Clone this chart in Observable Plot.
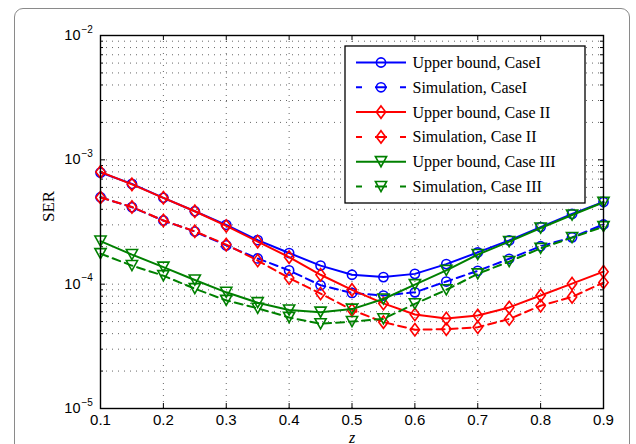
<!DOCTYPE html>
<html>
<head>
<meta charset="utf-8">
<script src="https://cdn.jsdelivr.net/npm/d3@7"></script>
<script src="https://cdn.jsdelivr.net/npm/@observablehq/plot@0.6"></script>
<style>
  html, body { margin: 0; padding: 0; background: #fff; overflow: hidden; }
  #wrap { position: relative; width: 636px; height: 444px; overflow: hidden; }
  #frame { position: absolute; left: 14px; top: 8px; width: 616px; height: 470px;
           border: 1px solid #8a8a8a; border-radius: 9px; box-sizing: border-box; }
  #chart { position: absolute; left: 0; top: 0; }
</style>
</head>
<body>
<div id="wrap"><div id="frame"></div><div id="chart"></div></div>
<script>
// ---- data ----
const z = [0.1, 0.15, 0.2, 0.25, 0.3, 0.35, 0.4, 0.45, 0.5, 0.55, 0.6, 0.65, 0.7, 0.75, 0.8, 0.85, 0.9];
const ubCase1  = [7.9e-4, 6.4e-4, 4.95e-4, 3.86e-4, 3.0e-4, 2.26e-4, 1.78e-4, 1.41e-4, 1.19e-4, 1.14e-4, 1.21e-4, 1.45e-4, 1.8e-4, 2.25e-4, 2.88e-4, 3.67e-4, 4.58e-4];
const simCase1 = [5.0e-4, 4.16e-4, 3.25e-4, 2.65e-4, 2.05e-4, 1.61e-4, 1.29e-4, 9.8e-5, 8.5e-5, 8.1e-5, 8.6e-5, 1.05e-4, 1.28e-4, 1.6e-4, 2.02e-4, 2.38e-4, 3.02e-4];
const ubCase2  = [8.0e-4, 6.35e-4, 4.95e-4, 3.86e-4, 2.94e-4, 2.2e-4, 1.65e-4, 1.19e-4, 9.0e-5, 7.0e-5, 5.7e-5, 5.3e-5, 5.6e-5, 6.5e-5, 8.1e-5, 1.01e-4, 1.26e-4];
const simCase2 = [4.98e-4, 4.18e-4, 3.25e-4, 2.66e-4, 2.08e-4, 1.55e-4, 1.12e-4, 8.4e-5, 6.2e-5, 4.95e-5, 4.3e-5, 4.35e-5, 4.5e-5, 5.25e-5, 6.7e-5, 7.9e-5, 1.03e-4];
const ubCase3  = [2.22e-4, 1.73e-4, 1.37e-4, 1.08e-4, 8.6e-5, 7.1e-5, 6.2e-5, 5.95e-5, 6.3e-5, 7.6e-5, 9.9e-5, 1.29e-4, 1.73e-4, 2.2e-4, 2.83e-4, 3.6e-4, 4.56e-4];
const simCase3 = [1.76e-4, 1.41e-4, 1.17e-4, 9.2e-5, 7.4e-5, 6.4e-5, 5.4e-5, 4.8e-5, 5.0e-5, 5.26e-5, 6.95e-5, 9.0e-5, 1.21e-4, 1.52e-4, 1.94e-4, 2.37e-4, 2.9e-4];

const seriesNames = ["Upper bound, CaseI", "Simulation, CaseI", "Upper bound, Case II", "Simulation, Case II", "Upper bound, Case III", "Simulation, Case III"];
const seriesValues = [ubCase1, simCase1, ubCase2, simCase2, ubCase3, simCase3];
const seriesColors = ["#0000ff", "#0000ff", "#ff0000", "#ff0000", "#008000", "#008000"];
const seriesDashed = [false, true, false, true, false, true];
const seriesMarker = ["circle", "circle", "diamond", "diamond", "tri", "tri"];

const xTicks = [0.1, 0.2, 0.3, 0.4, 0.5, 0.6, 0.7, 0.8, 0.9];
const xTickLabels = ["0.1", "0.2", "0.3", "0.4", "0.5", "0.6", "0.7", "0.8", "0.9"];
const yMajor = [1e-5, 1e-4, 1e-3, 1e-2];
const yExpLabels = ["\u22125", "\u22124", "\u22123", "\u22122"];
const yMinor = [];
for (const d of [1e-5, 1e-4, 1e-3]) for (let m = 2; m <= 9; m++) yMinor.push(m * d);

// ---- custom marker symbols ----
const symCircle = { draw(ctx, size) { const r = Math.sqrt(size / Math.PI); ctx.moveTo(r, 0); ctx.arc(0, 0, r, 0, 2 * Math.PI); } };
const symDiamond = { draw(ctx, size) { const r = Math.sqrt(size / Math.PI); const w = r * 0.75;
  ctx.moveTo(0, -r); ctx.lineTo(w, 0); ctx.lineTo(0, r); ctx.lineTo(-w, 0); ctx.closePath(); } };
const symTri = { draw(ctx, size) { const r = Math.sqrt(size / Math.PI); const w = r * 1.0, h = r * 0.9;
  ctx.moveTo(-w, -h); ctx.lineTo(w, -h); ctx.lineTo(0, h); ctx.closePath(); } };
const symbols = { circle: symCircle, diamond: symDiamond, tri: symTri };
const symR = { circle: 4.6, diamond: 6.2, tri: 5.6 };

const W = 636, H = 444, mL = 100, mR = 33, mT = 35, mB = 36;
const fw = W - mL - mR, fh = H - mT - mB;

const marks = [
  Plot.gridX(xTicks, { stroke: "#000", strokeOpacity: 0.6, strokeDasharray: "1,5", strokeWidth: 1 }),
  Plot.gridY(yMinor.concat(yMajor), { stroke: "#000", strokeOpacity: 0.6, strokeDasharray: "1,5", strokeWidth: 1 }),
  // inward tick marks
  Plot.tickX(xTicks, { x: d => d, insetTop: fh - 5, stroke: "#000" }),
  Plot.tickX(xTicks, { x: d => d, insetBottom: fh - 5, stroke: "#000" }),
  Plot.tickY(yMajor, { y: d => d, insetLeft: fw - 5, stroke: "#000" }),
  Plot.tickY(yMajor, { y: d => d, insetRight: fw - 5, stroke: "#000" }),
  Plot.tickY(yMinor, { y: d => d, insetLeft: fw - 3, stroke: "#000" }),
  Plot.tickY(yMinor, { y: d => d, insetRight: fw - 3, stroke: "#000" }),
];

seriesNames.forEach((name, i) => {
  const data = z.map((x, j) => ({ x, y: seriesValues[i][j] }));
  marks.push(Plot.line(data, { x: "x", y: "y", stroke: seriesColors[i], strokeWidth: 2,
    strokeDasharray: seriesDashed[i] ? "8,5" : null }));
  marks.push(Plot.dot(data, { x: "x", y: "y", symbol: symbols[seriesMarker[i]], r: symR[seriesMarker[i]],
    stroke: seriesColors[i], fill: "none", strokeWidth: 1.6 }));
});

marks.push(
  Plot.frame({ stroke: "#000", strokeWidth: 1.4 }),
  Plot.axisX(xTicks, { tickSize: 0, tickPadding: 6, tickFormat: (d, i) => xTickLabels[i], fontSize: 15, label: null }),
  Plot.text(yMajor, { y: d => d, frameAnchor: "left", dx: -20, textAnchor: "end", text: () => "10", fontSize: 14.5 }),
  Plot.text(yMajor, { y: d => d, frameAnchor: "left", dx: -19, dy: -6, textAnchor: "start", text: (d, i) => yExpLabels[i], fontSize: 10 }),
  Plot.text(["SER"], { frameAnchor: "left", dx: -52, rotate: -90, text: d => d, fontFamily: "Liberation Serif, Times New Roman, serif", fontSize: 17 }),
  Plot.text(["z"], { frameAnchor: "bottom", dy: 34, text: d => d, fontFamily: "Liberation Serif, Times New Roman, serif", fontStyle: "italic", fontSize: 16 })
);

const chart = Plot.plot({
  width: W, height: H, marginLeft: mL, marginRight: mR, marginTop: mT, marginBottom: mB,
  x: { domain: [0.1, 0.9], axis: null },
  y: { type: "log", domain: [1e-5, 1e-2], axis: null },
  style: { fontFamily: "Liberation Sans, Arial, Helvetica, sans-serif", fontSize: "15px", background: "transparent", color: "#000" },
  marks
});

// ---- legend ----
const svg = d3.select(chart);
const lg = svg.append("g").attr("text-anchor", "start");
const lx = 345, ly = 46, lw = 240, lh = 157;
lg.append("rect").attr("x", lx).attr("y", ly).attr("width", lw).attr("height", lh)
  .attr("fill", "#fff").attr("stroke", "#000").attr("stroke-width", 1.3);
seriesNames.forEach((name, i) => {
  const yy = 62.5 + i * 24.8;
  lg.append("line").attr("x1", 356).attr("x2", 406).attr("y1", yy).attr("y2", yy)
    .attr("stroke", seriesColors[i]).attr("stroke-width", 2)
    .attr("stroke-dasharray", seriesDashed[i] ? "6,13,12,13,6" : null);
  const m = seriesMarker[i];
  lg.append("path").attr("transform", `translate(381,${yy})`)
    .attr("d", d3.symbol(symbols[m], symR[m] * symR[m] * Math.PI)())
    .attr("fill", "none").attr("stroke", seriesColors[i]).attr("stroke-width", 1.6);
  lg.append("text").attr("x", 412.5).attr("y", yy + 5.5).text(name)
    .attr("text-anchor", "start")
    .attr("font-family", "Liberation Serif, Times New Roman, serif").attr("font-size", 16).attr("fill", "#000");
});

document.getElementById("chart").appendChild(chart);
</script>
</body>
</html>
